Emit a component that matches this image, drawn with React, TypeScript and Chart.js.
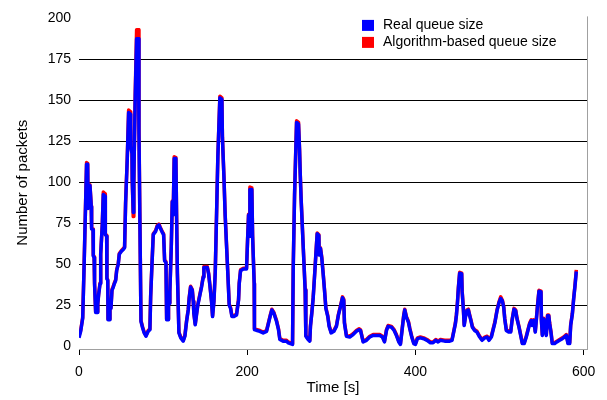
import { useEffect, useRef } from "react";
import { Chart, registerables } from "chart.js";

Chart.register(...registerables);

const TIME = [
  0, 2, 4.4, 6, 7.5, 9, 10.3, 10.8, 13, 14.6, 15, 16.7, 17, 18, 18.5, 19.8, 22, 22.3, 23.4, 25,
  25.8, 27.7, 28.9, 31, 31.3, 32.9, 33.2, 34.2, 34.5, 36.5, 36.8, 38, 39.2, 40.8, 42, 43.6, 44.8, 46.7, 47.9, 50.7,
  52.7, 54.2, 55.4, 57.4, 59, 61.2, 61.5, 63, 63.3, 64.5, 65.2, 65.7, 66.9, 68.5, 70.8, 71.3, 72.5, 73.7, 75.7, 77.5,
  79.6, 82.3, 84.3, 85.2, 86.7, 88.3, 91.1, 93, 95, 96.6, 99.4, 100.6, 101.8, 103.4, 103.8, 104.2, 106.2, 106.4, 107.7, 108,
  109.7, 110.9, 112, 113.2, 115.2, 116, 117, 118.8, 121, 123.9, 125.9, 127.9, 129.9, 131, 132.7, 134.7, 135.9, 136.5, 138.2, 139.7,
  141.3, 143.7, 145.7, 147.7, 148.5, 152.5, 154.1, 155.6, 157.6, 158.8, 160.4, 162, 163.6, 165.1, 167.5, 169.9, 170.5, 172.3, 173.8, 175.4,
  177, 178.6, 180.2, 181.8, 184.2, 187.3, 189.7, 190.5, 192.1, 195.3, 199.2, 200.4, 201.6, 202.2, 203.2, 205.5, 206.4, 208.3, 208.6, 211.8,
  215, 219, 223, 224.9, 227.7, 229.3, 231.7, 234.9, 237.2, 238.8, 242.7, 246.7, 248.7, 253.9, 254.7, 256.3, 258.7, 261, 262.2, 263,
  264.1, 266.5, 268.9, 269.7, 272.4, 274.4, 275.2, 276.8, 278.4, 280, 281.6, 283.2, 285.2, 285.6, 287.1, 288.7, 290.3, 291.9, 293.5, 295.8,
  297.4, 299.8, 303, 306.1, 308.5, 310.9, 313.3, 314.8, 315.6, 318, 321.9, 325.9, 329.8, 333, 334.7, 337.8, 341.8, 345.7, 349.7, 357.6,
  360.8, 363.2, 365.6, 367.5, 371.5, 374.7, 377.4, 380.2, 382.2, 384.1, 386.1, 387.3, 389.3, 391.7, 393.3, 395.6, 398, 400, 402.4, 405.9,
  409.9, 413.8, 417.8, 421, 424.2, 427, 429.7, 434.8, 440.8, 443.5, 445.5, 447.5, 448.7, 450, 451.1, 452.6, 455, 455.5, 457, 458,
  459.4, 461.3, 462.9, 464.5, 466, 467.7, 470.4, 473.2, 476.4, 479.2, 482.4, 485.2, 487.5, 490.3, 492.2, 494.6, 497, 499.4, 501.4, 503.4,
  505, 506.2, 508.1, 510.9, 513.3, 514.9, 517.2, 519.2, 520.8, 523.1, 524.7, 527.1, 529.4, 531.8, 533.8, 535.8, 537.7, 538.7, 540.6, 541.8,
  542.5, 543.7, 545, 546.9, 549.3, 549.8, 550.9, 552.5, 553.8, 555.6, 557.1, 558.5, 559.6, 561.1, 562.7, 565.5, 568.2, 571.4, 574.7, 577.4,
  579.4, 581.4, 583.4, 584.6, 586.6, 588.1, 589.7, 591.3,
];

const REAL_QUEUE = [
  5, 9, 17, 47.5, 79.5, 111, 111, 84, 98, 85, 71.5, 71, 55, 54, 38, 20.5, 20.5, 25.5, 31.5, 38,
  56, 74, 92.5, 91.5, 68, 67, 41, 40, 16, 16, 28, 23, 34, 36, 38, 40, 46, 50, 56, 58,
  59, 60, 87, 114.5, 142.5, 141.5, 121.5, 117.5, 101.5, 81.5, 101, 117.5, 153.5, 187.5, 187.5, 129.5, 71.5, 15, 11, 8,
  6, 9, 10, 30, 49, 68, 70, 73, 74, 72, 69, 68, 52, 51, 33, 16, 16, 27, 26, 33,
  60, 88, 80, 114.5, 114.5, 80, 44, 8, 5, 3, 6, 15, 22, 29, 36, 34, 27, 20, 13, 19,
  25, 31, 36, 42, 48, 48, 44, 37, 27, 18, 27, 45, 81, 115.5, 151.5, 150.5, 127.5, 103.5, 79.5, 61.5,
  43.5, 25, 23, 18, 18, 19, 28, 38, 46, 47, 47, 64, 80, 67, 95.5, 95.5, 67, 38, 10, 9.5,
  9, 8, 9, 13, 19, 22, 20, 15, 10, 4, 3, 3, 2, 1, 47, 92, 136.5, 135.5, 120, 105.5,
  89.5, 61.5, 34, 6, 4, 3, 12, 20, 29, 42, 55.5, 68.5, 67.5, 55.5, 59.5, 53.5, 44, 34, 23, 18,
  12, 8, 9, 12, 19, 24, 29.5, 28, 14, 6, 5.5, 7, 9, 10, 9.5, 2.5, 3.5, 5.5, 6.5, 6.5,
  5.5, 2.5, 9.5, 12, 11.5, 9.5, 6.5, 2.5, 1, 9.5, 18.5, 22, 17.5, 14.5, 10.5, 5.5, 1.5, 1, 4.5, 5,
  4.5, 3.5, 2, 2, 3.5, 2.5, 3.5, 3, 3, 3.5, 8.5, 13.5, 18.5, 26.5, 35.5, 44.5, 44, 33.5, 22.5, 12.5,
  17.5, 21.5, 22, 18.5, 15.5, 11.5, 9.5, 8.5, 5.5, 3.5, 5, 5.5, 3.5, 5.5, 9.5, 14.5, 21.5, 26.5, 29, 27.5,
  23.5, 16.5, 9.5, 8.5, 8.5, 15.5, 22.5, 21.5, 16.5, 11.5, 7.5, 1.5, 1.5, 5.5, 9.5, 13.5, 15.5, 12.5, 15.5, 11.5,
  8.5, 15.5, 23.5, 33.5, 33, 15.5, 6.5, 16.5, 12.5, 6.5, 18.5, 18.5, 13.5, 8.5, 1.5, 1.5, 2.5, 3.5, 4.5, 5.5,
  6.5, 1.5, 1.5, 12.5, 19.5, 28.5, 36.5, 45.5,
];

const ALGO_QUEUE = [
  6.5, 9.5, 17.5, 48, 80, 112, 111.5, 84.5, 98.5, 85.5, 72, 71.5, 55.5, 54.5, 38.5, 21, 21, 26, 32, 38.5,
  56.5, 74.5, 94, 93, 68.5, 67.5, 41.5, 40.5, 16.5, 16.5, 28.5, 23.5, 34.5, 36.5, 38.5, 40.5, 46.5, 50.5, 56.5, 58.5,
  59.5, 60.5, 87.5, 115, 144, 143, 122, 118, 101, 79, 100.5, 118, 155, 193, 193, 133, 72.5, 15.5, 11.5, 8.5,
  6.5, 9.5, 10.5, 30.5, 49.5, 68.5, 70.5, 73.5, 74.5, 72.5, 69.5, 68.5, 52.5, 51.5, 33.5, 16.5, 16.5, 27.5, 26.5, 33.5,
  60.5, 88.5, 80.5, 115.5, 115, 80.5, 44.5, 8.5, 5.5, 3.5, 6.5, 15.5, 22.5, 29.5, 36.5, 34.5, 27.5, 20.5, 13.5, 19.5,
  25.5, 31.5, 36.5, 42.5, 48.5, 48.5, 44.5, 37.5, 27.5, 18.5, 27.5, 45.5, 81.5, 116, 152.5, 151.5, 128, 104, 80, 62,
  44, 25.5, 23.5, 18.5, 18.5, 19.5, 28.5, 38.5, 46.5, 47.5, 47.5, 64.5, 80.5, 67.5, 97, 96.5, 67.5, 38.5, 10.5, 10,
  9.5, 8.5, 9.5, 13.5, 19.5, 22.5, 20.5, 15.5, 10.5, 4.5, 3.5, 3.5, 2.5, 1.5, 47.5, 92.5, 137.5, 136.5, 120.5, 106,
  90, 62, 34.5, 6.5, 4.5, 3.5, 12.5, 20.5, 29.5, 42.5, 56, 69, 68, 56, 60, 54, 44.5, 34.5, 23.5, 18.5,
  12.5, 8.5, 9.5, 12.5, 19.5, 24.5, 30, 28.5, 14.5, 6.5, 6, 7.5, 9.5, 10.5, 10, 3, 4, 6, 7, 7,
  6, 3, 10, 12.5, 12, 10, 7, 3, 1.5, 10, 19, 22.5, 18, 15, 11, 6, 2, 1.5, 5, 5.5,
  5, 4, 2.5, 2.5, 4, 3, 4, 3.5, 3.5, 4, 9, 14, 19, 27, 36, 45, 44.5, 34, 23, 13,
  18, 22, 22.5, 19, 16, 12, 10, 9, 6, 4, 5.5, 6, 4, 6, 10, 15, 22, 27, 30, 28,
  24, 17, 10, 9, 9, 16, 23, 22, 17, 12, 8, 2, 2, 6, 10, 14, 16, 13, 16, 12,
  9, 16, 24, 34, 33.5, 16, 7, 17, 13, 7, 19, 19, 14, 9, 2, 2, 3, 4, 5, 6,
  7, 2, 2, 13, 20, 29, 37, 46.5,
];

const SERIES_LABELS = ["Real queue size", "Algorithm-based queue size"];
const SERIES_COLORS = ["#0000ff", "#ff0000"];
const X_TICKS = [0, 200, 400, 600];
const Y_TICKS = [0, 25, 50, 75, 100, 125, 150, 175, 200];
const X_TITLE = "Time [s]";
const Y_TITLE = "Number of packets";

const FONT = "'Liberation Sans', Arial, sans-serif";

const frameAndLegend = {
  id: "frameAndLegend",
  afterDraw(chart: any) {
    const { ctx, chartArea } = chart;
    ctx.save();
    ctx.strokeStyle = "#a0a0a0";
    ctx.lineWidth = 1;
    const rx = Math.round(chartArea.right) + 0.5;
    ctx.beginPath();
    ctx.moveTo(rx, chartArea.top);
    ctx.lineTo(rx, chartArea.bottom);
    ctx.stroke();
    const left = chartArea.right - 225;
    ctx.font = `14px ${FONT}`;
    ctx.textBaseline = "middle";
    ctx.textAlign = "left";
    chart.data.datasets.forEach((ds: any, i: number) => {
      const cy = chartArea.top + 9 + i * 17;
      ctx.fillStyle = ds.borderColor;
      ctx.fillRect(left, cy - 5.5, 12, 11);
      ctx.fillStyle = "#000";
      ctx.fillText(ds.label, left + 21, cy);
    });
    ctx.restore();
  },
};

export default function App() {
  const ref = useRef<HTMLCanvasElement | null>(null);

  useEffect(() => {
    if (!ref.current) return;
    const toPoints = (vals: number[]) => TIME.map((t, i) => ({ x: t, y: vals[i] }));
    const chart = new Chart(ref.current, {
      type: "line",
      data: {
        datasets: [
          {
            label: SERIES_LABELS[0],
            data: toPoints(REAL_QUEUE),
            borderColor: SERIES_COLORS[0],
            backgroundColor: SERIES_COLORS[0],
            borderWidth: 3.5,
            pointRadius: 0,
            tension: 0,
            borderJoinStyle: "round",
          },
          {
            label: SERIES_LABELS[1],
            data: toPoints(ALGO_QUEUE),
            borderColor: SERIES_COLORS[1],
            backgroundColor: SERIES_COLORS[1],
            borderWidth: 3.5,
            pointRadius: 0,
            tension: 0,
            borderJoinStyle: "round",
          },
        ],
      },
      options: {
        responsive: false,
        animation: false,
        layout: { padding: { top: 10, right: 20, left: 0, bottom: 0 } },
        plugins: {
          legend: { display: false },
          tooltip: { enabled: false },
        },
        scales: {
          x: {
            type: "linear",
            min: 0,
            max: 604,
            afterBuildTicks: (s: any) => {
              s.ticks = X_TICKS.map((v) => ({ value: v }));
            },
            afterFit: (s: any) => {
              s.height = 51;
            },
            grid: {
              drawOnChartArea: false,
              drawTicks: true,
              tickLength: 6,
              tickColor: "#000",
              color: "#000",
            },
            border: { display: true, color: "#a0a0a0" },
            ticks: {
              color: "#000",
              font: { family: FONT, size: 14 },
              padding: 9,
              maxRotation: 0,
            },
            title: {
              display: true,
              text: X_TITLE,
              color: "#000",
              font: { family: FONT, size: 15 },
              padding: { top: 0, bottom: 3 },
            },
          },
          y: {
            type: "linear",
            min: -1.8,
            max: 201.2,
            afterBuildTicks: (s: any) => {
              s.ticks = Y_TICKS.map((v) => ({ value: v }));
            },
            afterFit: (s: any) => {
              s.width = 79;
            },
            grid: {
              drawTicks: false,
              color: (c: any) =>
                c.tick && (c.tick.value === 0 || c.tick.value === 200) ? "rgba(0,0,0,0)" : "#000",
              lineWidth: 1,
            },
            border: { display: false },
            ticks: {
              color: "#000",
              font: { family: FONT, size: 14 },
              padding: 8,
            },
            title: {
              display: true,
              text: Y_TITLE,
              color: "#000",
              font: { family: FONT, size: 15 },
              padding: { top: 14, bottom: 0 },
            },
          },
        },
      },
      plugins: [frameAndLegend],
    });
    return () => chart.destroy();
  }, []);

  return (
    <div style={{ position: "fixed", left: 0, top: 0, width: 607, height: 400, background: "#fff" }}>
      <canvas ref={ref} width={607} height={400} />
    </div>
  );
}
